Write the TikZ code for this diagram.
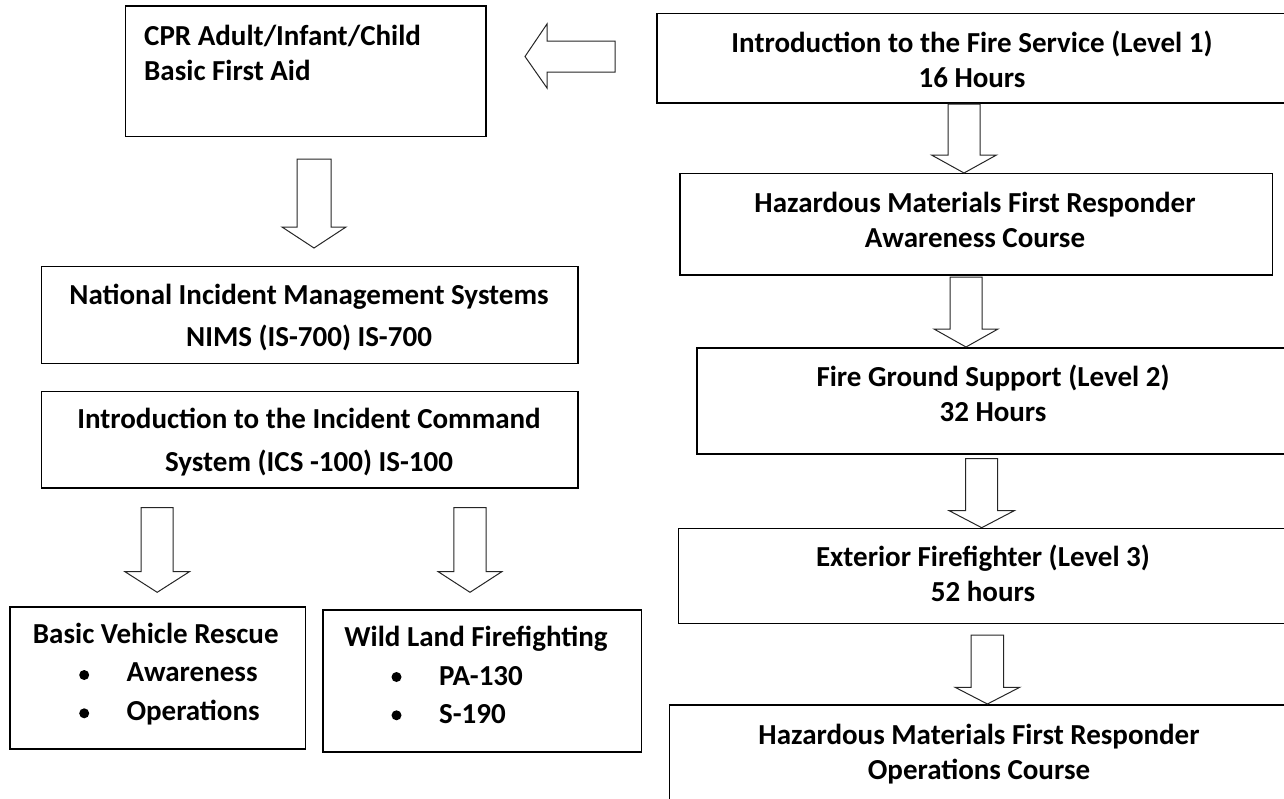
\documentclass[tikz,border=0pt]{standalone}
\usepackage{fontspec}
\setmainfont{Carlito}
\newcommand\dnarrow[7]{% name, cx, top, head start, tip, shaft half, head half
  \draw[blk] ({#2-#6},#3) -- ({#2+#6},#3) -- ({#2+#6},#4) -- ({#2+#7},#4) -- (#2,#5) -- ({#2-#7},#4) -- ({#2-#6},#4) -- cycle;
  \coordinate (#1) at (#2,#5);}
\begin{document}
\begin{tikzpicture}[x=1pt,y=-1pt,
  boxn/.style={draw=black, line width=1.5pt, rectangle, inner sep=0pt, anchor=north west},
  blk/.style={draw=black!85, line width=1pt, fill=white, line join=miter},
  txt/.style={font=\bfseries\fontsize{29}{35}\selectfont, align=center, anchor=base, inner sep=0pt},
  txtw/.style={font=\bfseries\fontsize{29}{42.5}\selectfont, align=center, anchor=base, inner sep=0pt},
  itm/.style={font=\bfseries\fontsize{29}{35}\selectfont, anchor=base west, inner sep=0pt},
  bul/.style={circle, fill=black, inner sep=0pt, minimum size=10pt}]
\useasboundingbox (0,0) rectangle (1284,798);
% boxes
\node[boxn, minimum width=360.5pt, minimum height=130.7pt] (cpr) at (124.9,5) {};
\node[boxn, minimum width=536.6pt, minimum height=97pt] (nims) at (40.8,265.7) {};
\node[boxn, minimum width=536.6pt, minimum height=96.6pt] (ics) at (40.8,390.7) {};
\node[boxn, minimum width=295.4pt, minimum height=142.3pt] (bvr) at (9.3,606) {};
\node[boxn, minimum width=318.6pt, minimum height=141.7pt] (wlf) at (322,609.3) {};
\node[boxn, minimum width=640pt, minimum height=89.6pt] (b1) at (656.4,12.7) {};
\node[boxn, minimum width=592.6pt, minimum height=101.3pt] (b2) at (679,172.7) {};
\node[boxn, minimum width=600pt, minimum height=106.3pt] (b3) at (696,347) {};
\node[boxn, minimum width=620pt, minimum height=95pt] (b4) at (677.8,527.7) {};
\node[boxn, minimum width=630pt, minimum height=120pt] (b5) at (668.7,704) {};
% block arrows
\draw[blk] (615,41) -- (547,41) -- (547,24) -- (525,56.5) -- (547,88) -- (547,72) -- (615,72) -- cycle;
\dnarrow{acpr}{314}{159}{227}{248}{17}{32}
\dnarrow{a1}{964}{104}{155}{173}{16}{32.5}
\dnarrow{a2}{966}{277}{329}{347}{16}{32}
\dnarrow{a3}{981.7}{458.7}{510.7}{527.7}{16}{32.5}
\dnarrow{a4}{987.4}{635}{687.3}{704}{16.3}{32.3}
\dnarrow{al1}{157.2}{507.7}{571.7}{592.3}{16}{32.2}
\dnarrow{al2}{470}{507.7}{571.7}{592.3}{16.2}{31.8}
% texts (anchor base = baseline of the last line)
\node[txt, align=left, anchor=base west] (tcpr) at (144,80) {CPR Adult/Infant/Child\\Basic First Aid};
\node[txt] (t1) at (972,87) {Introduction to the Fire Service (Level 1)\\16 Hours};
\node[txt] (t2) at (975,247) {Hazardous Materials First Responder\\Awareness Course};
\node[txt] (t3) at (993,421) {Fire Ground Support (Level 2)\\32 Hours};
\node[txt] (t4) at (983,601.7) {Exterior Firefighter (Level 3)\\52 hours};
\node[txt] (t5) at (979,779.3) {Hazardous Materials First Responder\\Operations Course};
\node[txtw] (tn) at (309,346.7) {National Incident Management Systems\\NIMS (IS-700) IS-700};
\node[txtw] (ti) at (309,471) {Introduction to the Incident Command\\System (ICS -100) IS-100};
\node[txt] (tb) at (155.8,643.3) {Basic Vehicle Rescue};
\node[bul] (bb1) at (84.2,675) {};
\node[bul] (bb2) at (84.2,713.3) {};
\node[itm] (ib1) at (126.3,681.7) {Awareness};
\node[itm] (ib2) at (126.3,720) {Operations};
\node[txt] (tw) at (476,646.7) {Wild Land Firefighting};
\node[bul] (bw1) at (396.5,677) {};
\node[bul] (bw2) at (396.5,715.3) {};
\node[itm] (iw1) at (439,685) {PA-130};
\node[itm] (iw2) at (439,723) {S-190};
\end{tikzpicture}
\end{document}
